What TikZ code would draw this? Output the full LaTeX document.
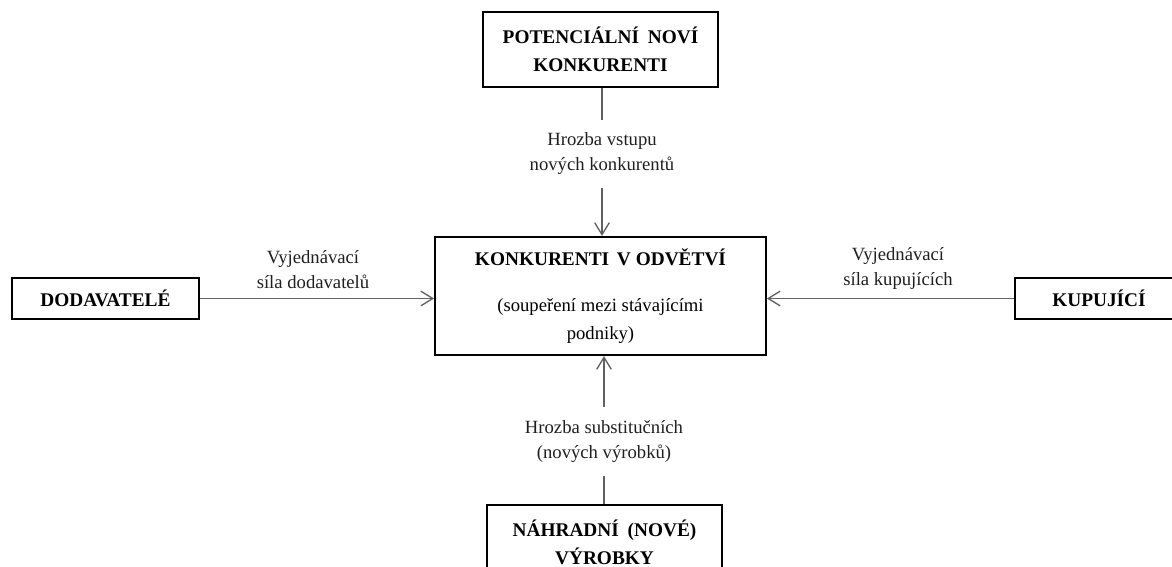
\documentclass[tikz,border=0pt]{standalone}
\usepackage{fontspec}
\setmainfont{Liberation Serif}
\usetikzlibrary{arrows.meta}
\begin{document}
\begin{tikzpicture}[x=0.75pt,y=-0.75pt,
  forcebox/.style={draw=black, line width=1.6pt, align=center,
    font=\fontsize{14.5}{21}\selectfont\bfseries, inner sep=0pt, text=black},
  flowlabel/.style={align=center, font=\fontsize{14}{18.75}\selectfont,
    inner sep=0pt, text=black!88},
  conn/.style={draw=black!62, line width=1.1pt},
  arr/.style={conn, -{Straight Barb[length=9pt,width=11pt,line width=1pt]}}
]
\useasboundingbox (0,0) rectangle (1172,567);
\clip (0,0) rectangle (1172,567);

% boxes
\node[forcebox, minimum width=176pt, minimum height=56pt] (pot) at (600.5,49.5)
  {POTENCIÁLNÍ\hspace{0.45em}NOVÍ\\KONKURENTI};
\node[forcebox, minimum width=248pt, minimum height=88.5pt] (kon) at (600.5,296)
  {\textbf{KONKURENTI\hspace{0.4em}V ODVĚTVÍ}\\[13pt]
   \fontsize{14}{22.5}\selectfont\mdseries (soupeření mezi stávajícími\\
   \fontsize{14}{22.5}\selectfont\mdseries podniky)};
\node[forcebox, minimum width=140pt, minimum height=30.5pt] (dod) at (105.5,298.5)
  {DODAVATELÉ};
\node[forcebox, minimum width=126pt, minimum height=30.5pt] (kup) at (1099,298.5)
  {KUPUJÍCÍ};
\node[forcebox, minimum width=176pt, minimum height=56pt] (nah) at (604.5,542.5)
  {NÁHRADNÍ\hspace{0.45em}(NOVÉ)\\VÝROBKY};

% labels
\node[flowlabel, minimum height=51pt] (toplab) at (602,154)
  {Hrozba vstupu\\nových konkurentů};
\node[flowlabel, minimum height=51.5pt] (botlab) at (604,441.5)
  {Hrozba substitučních\\(nových výrobků)};
\node[flowlabel] (leftlab) at (313,269.5) {Vyjednávací\\síla dodavatelů};
\node[flowlabel] (rightlab) at (898,268.5) {Vyjednávací\\síla kupujících};

% connectors
\draw[conn] (toplab.north |- pot.south) -- (toplab.north);
\draw[arr] (toplab.south) -- (toplab.south |- kon.north);
\draw[conn] (botlab.south |- nah.north) -- (botlab.south);
\draw[arr] (botlab.north) -- (botlab.north |- kon.south);
\draw[arr] (dod.east) -- (dod.east -| kon.west);
\draw[arr] (kup.west) -- (kup.west -| kon.east);
\end{tikzpicture}
\end{document}
